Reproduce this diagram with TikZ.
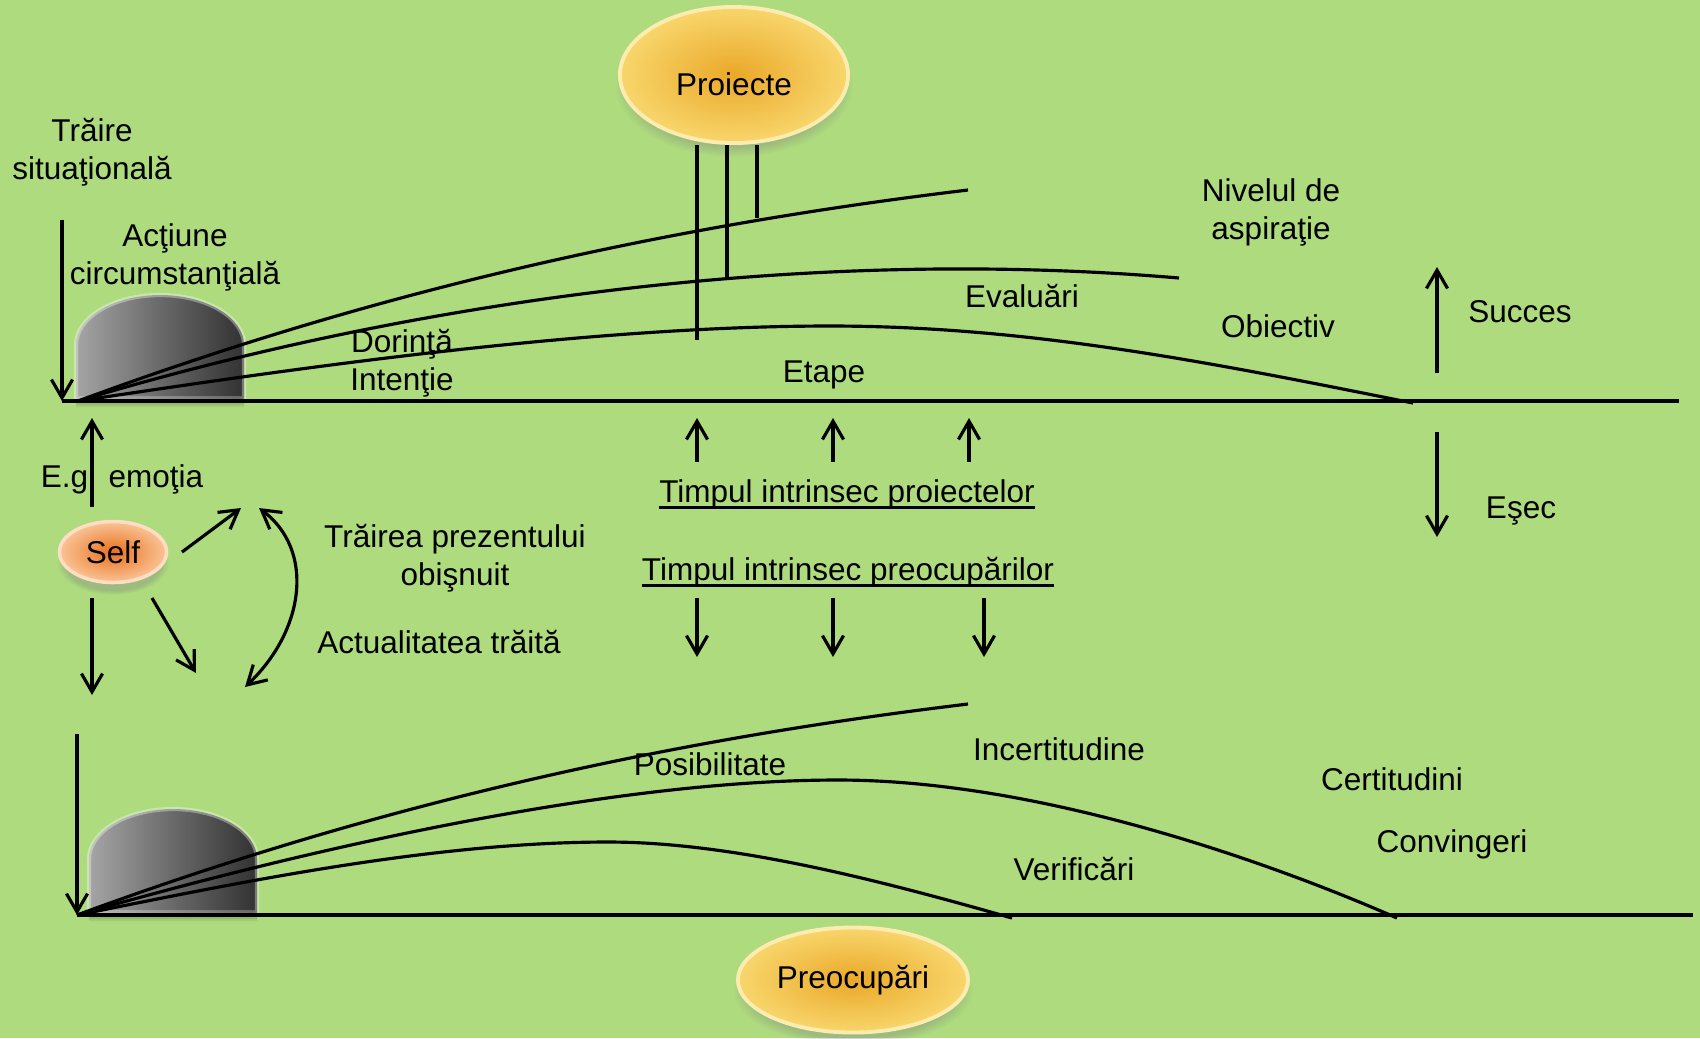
\documentclass[tikz,border=0pt]{standalone}
\usepackage{fontspec}
\setmainfont{Liberation Sans}
\usetikzlibrary{arrows.meta,shapes.geometric,shadows,fadings}
\definecolor{bggreen}{RGB}{173,219,125}
\definecolor{goldIn}{RGB}{234,168,40}
\definecolor{goldOut}{RGB}{248,214,108}
\definecolor{goldRim}{RGB}{253,236,175}
\definecolor{orIn}{RGB}{234,112,30}
\definecolor{orOut}{RGB}{249,196,150}
\definecolor{orRim}{RGB}{253,222,196}
\definecolor{domeL}{RGB}{165,165,165}
\definecolor{domeM}{RGB}{105,105,105}
\definecolor{domeR}{RGB}{50,50,50}
% underline drawn just under the baseline, crossed by descenders
\newcommand\ulpp[1]{\setbox0\hbox{#1}\rlap{\rule[-1.85pt]{\wd0}{0.85pt}}\box0}
\begin{document}
\begin{tikzpicture}[x=0.01cm,y=-0.01cm,
  every node/.style={font=\fontsize{8.96pt}{10.8pt}\selectfont,inner sep=0pt,outer sep=0pt},
  lbl/.style={anchor=base,align=center},
  lbltwo/.style={anchor=center,align=center},
  ln/.style={line width=0.9pt,black},
  >={Straight Barb[length=5.2pt,width=6pt]},
  arr/.style={ln,->},
  dblarr/.style={ln,<->},
  ball/.style={ellipse,shading=radial,inner color=goldIn,outer color=goldOut,
    draw=goldRim,line width=1.1pt,
    circular drop shadow={shadow xshift=0pt,shadow yshift=-3pt,opacity=0.35,shadow scale=1.04}},
  selfball/.style={ellipse,shading=radial,inner color=orIn,outer color=orOut,
    draw=orRim,line width=1pt,
    circular drop shadow={shadow xshift=0pt,shadow yshift=-3pt,opacity=0.35,shadow scale=1.04}},
  domebody/.style={left color=domeL,right color=domeR,middle color=domeM,
    draw=white,draw opacity=0.35,line width=1.2pt},
  pics/dome/.style={code={
    \foreach \d/\o in {2/0.12,4/0.09,6/0.06}{
      \fill[black,opacity=\o,shift={(0,\d)}] (0,0) -- (0,-56)
        .. controls (0,-83.6) and (37.6,-106) .. (84,-106)
        .. controls (130.4,-106) and (168,-83.6) .. (168,-56) -- (168,0) -- cycle;
    }
    \path[domebody] (0,0) -- (0,-56)
        .. controls (0,-83.6) and (37.6,-106) .. (84,-106)
        .. controls (130.4,-106) and (168,-83.6) .. (168,-56) -- (168,0) -- cycle;
    \fill[white,opacity=0.25] (2,-1.5) rectangle (166,-5);
  }}
]
\useasboundingbox (0,0) rectangle (1700,1038);
\fill[bggreen] (0,0) rectangle (1700,1038);

% ---------- upper band: projects ----------
\pic at (76,401) {dome};
\coordinate (o1) at (78,401);
\coordinate (tsTop) at (62,220);
\coordinate (tsBot) at (62,401);
\coordinate (bl1R) at (1679,401);
\draw[arr] (tsTop) -- (tsBot);
\draw[ln] (tsBot) -- (bl1R);

% aspiration level, evaluations, objective
\coordinate (t1e) at (968,190);
\coordinate (t2e) at (1179,278);
\coordinate (t3p) at (830,326);
\coordinate (t3e) at (1413,403);
\draw[ln] (o1) .. controls (378,290) and (668,226) .. (t1e);
\draw[ln] (o1) .. controls (380,310) and (780,244) .. (t2e);
\draw[ln] (o1) .. controls (278,371) and (580,326) .. (t3p)
               .. controls (1030,326) and (1213,363) .. (t3e);

\node[ball,minimum width=2.28cm,minimum height=1.36cm,text height=11.4pt,text depth=0pt]
  (proj) at (734,75) {Proiecte};
\coordinate (pa) at (697,145); \coordinate (pae) at (697,340);
\coordinate (pb) at (727,145); \coordinate (pbe) at (727,280);
\coordinate (pc) at (757,145); \coordinate (pce) at (757,218);
\draw[ln] (pa) -- (pae);
\draw[ln] (pb) -- (pbe);
\draw[ln] (pc) -- (pce);

\node[lbltwo] (trs) at (92,152) {Trăire\\situaţională};
\node[lbltwo] (act) at (175,257) {Acţiune\\circumstanţială};
\node[lbltwo] (dor) at (402,363) {Dorinţă\\Intenţie};
\node[lbl] (etape) at (824,382) {Etape};
\node[lbl] (eval) at (1022,307) {Evaluări};
\node[lbltwo] (niv) at (1271,212) {Nivelul de\\aspiraţie};
\node[lbl] (obj) at (1278,337) {Obiectiv};

% success / failure
\coordinate (sa) at (1437,373); \coordinate (sb) at (1437,267);
\coordinate (ea) at (1437,432); \coordinate (eb) at (1437,537);
\draw[arr] (sa) -- (sb);
\draw[arr] (ea) -- (eb);
\node[lbl] (succ) at (1520,322) {Succes};
\node[lbl] (esec) at (1521,518) {Eşec};

% ---------- middle: intrinsic time ----------
\foreach \x [count=\i] in {697,833,969}{
  \coordinate (up\i a) at (\x,462); \coordinate (up\i b) at (\x,418);
  \draw[arr] (up\i a) -- (up\i b);
}
\foreach \x [count=\i] in {697,833,984}{
  \coordinate (dn\i a) at (\x,598); \coordinate (dn\i b) at (\x,657);
  \draw[arr] (dn\i a) -- (dn\i b);
}
\node[lbl] (tproj) at (847,502) {\ulpp{Timpul intrinsec proiectelor}};
\node[lbl] (tpreo) at (848,580) {\ulpp{Timpul intrinsec preocupărilor}};

% ---------- self ----------
\node[selfball,minimum width=1.07cm,minimum height=0.61cm] (self) at (113,552) {Self};
\coordinate (egA) at (92,507); \coordinate (egB) at (92,418);
\draw[arr] (egA) -- (egB);
\node[lbl] (eg) at (122,487) {E.g. emoţia};
\coordinate (urA) at (182,552); \coordinate (urB) at (241,508);
\draw[arr] (urA) -- (urB);
\coordinate (lrA) at (152,598); \coordinate (lrB) at (196,673);
\draw[arr] (lrA) -- (lrB);
\coordinate (sdA) at (92,598); \coordinate (sdB) at (92,695);
\draw[arr] (sdA) -- (sdB);
\coordinate (cvA) at (259,508); \coordinate (cvB) at (245,687);
\draw[dblarr] (cvA) .. controls (315,550) and (305,630) .. (cvB);
\node[lbltwo] (trp) at (455,558) {Trăirea prezentului\\obişnuit};
\node[lbl] (actual) at (439,653) {Actualitatea trăită};

% ---------- lower band: preoccupations ----------
\pic at (89,915) {dome};
\coordinate (o2) at (77,915);
\coordinate (lvTop) at (77,734);
\coordinate (bl2R) at (1693,915);
\draw[arr] (lvTop) -- (o2);
\draw[ln] (o2) -- (bl2R);

% uncertainty, certainties, verifications
\coordinate (l1e) at (968,704);
\coordinate (l2p) at (838,780);
\coordinate (l2e) at (1397,918);
\coordinate (l3p) at (608,842);
\coordinate (l3e) at (1012,918);
\draw[ln] (o2) .. controls (378,804) and (668,740) .. (l1e);
\draw[ln] (o2) .. controls (258,863) and (588,780) .. (l2p)
               .. controls (1038,780) and (1267,861) .. (l2e);
\draw[ln] (o2) .. controls (228,885) and (428,842) .. (l3p)
               .. controls (738,842) and (892,884) .. (l3e);

\node[lbl] (pos) at (710,775) {Posibilitate};
\node[lbl] (inc) at (1059,760) {Incertitudine};
\node[lbl] (cert) at (1392,790) {Certitudini};
\node[lbl] (conv) at (1452,852) {Convingeri};
\node[lbl] (ver) at (1074,880) {Verificări};

\node[ball,minimum width=2.30cm,minimum height=1.05cm] (preo) at (853,980) {Preocupări};
\end{tikzpicture}
\end{document}
